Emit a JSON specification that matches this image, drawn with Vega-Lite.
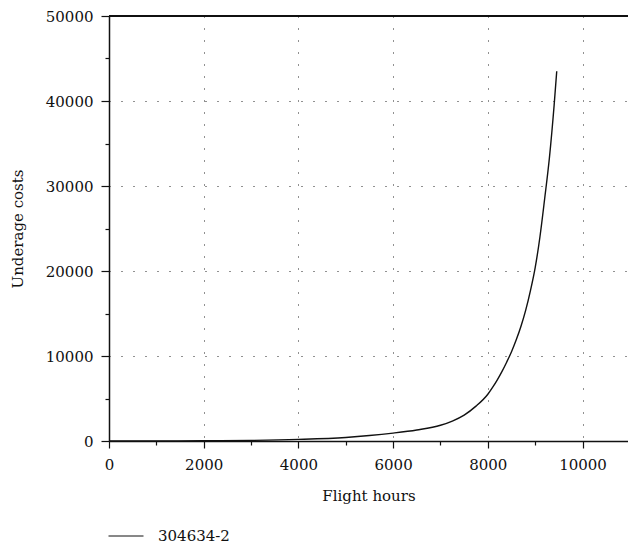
{
  "$schema": "https://vega.github.io/schema/vega-lite/v6.json",
  "width": 519,
  "height": 425,
  "autosize": "none",
  "padding": {"left": 109, "top": 16, "right": 0, "bottom": 107},
  "background": "white",
  "config": {
    "view": {"stroke": null},
    "font": "DejaVu Serif",
    "axis": {
      "labelFont": "DejaVu Serif",
      "titleFont": "DejaVu Serif",
      "labelFontSize": 15,
      "titleFontSize": 15,
      "titleFontWeight": "normal",
      "labelColor": "#111",
      "titleColor": "#111",
      "domainColor": "#111",
      "domainWidth": 1.5,
      "tickColor": "#111",
      "tickWidth": 1.2,
      "gridColor": "#222",
      "gridDash": [1, 11],
      "gridWidth": 1
    },
    "legend": {
      "labelFont": "DejaVu Serif",
      "labelFontSize": 15,
      "labelColor": "#111"
    }
  },
  "data": {
    "values": [
      {"h": 0, "c": 0, "s": "304634-2"},
      {"h": 1000, "c": 5, "s": "304634-2"},
      {"h": 2000, "c": 25, "s": "304634-2"},
      {"h": 3000, "c": 70, "s": "304634-2"},
      {"h": 4000, "c": 190, "s": "304634-2"},
      {"h": 5000, "c": 420, "s": "304634-2"},
      {"h": 5500, "c": 640, "s": "304634-2"},
      {"h": 6000, "c": 930, "s": "304634-2"},
      {"h": 6500, "c": 1300, "s": "304634-2"},
      {"h": 7000, "c": 1850, "s": "304634-2"},
      {"h": 7250, "c": 2350, "s": "304634-2"},
      {"h": 7500, "c": 3050, "s": "304634-2"},
      {"h": 7750, "c": 4100, "s": "304634-2"},
      {"h": 8000, "c": 5500, "s": "304634-2"},
      {"h": 8100, "c": 6300, "s": "304634-2"},
      {"h": 8200, "c": 7200, "s": "304634-2"},
      {"h": 8300, "c": 8200, "s": "304634-2"},
      {"h": 8400, "c": 9300, "s": "304634-2"},
      {"h": 8500, "c": 10500, "s": "304634-2"},
      {"h": 8600, "c": 11900, "s": "304634-2"},
      {"h": 8700, "c": 13500, "s": "304634-2"},
      {"h": 8800, "c": 15400, "s": "304634-2"},
      {"h": 8900, "c": 17700, "s": "304634-2"},
      {"h": 9000, "c": 20400, "s": "304634-2"},
      {"h": 9100, "c": 24000, "s": "304634-2"},
      {"h": 9200, "c": 28500, "s": "304634-2"},
      {"h": 9300, "c": 33300, "s": "304634-2"},
      {"h": 9400, "c": 39500, "s": "304634-2"},
      {"h": 9455, "c": 43500, "s": "304634-2"}
    ]
  },
  "layer": [
    {
      "mark": {"type": "line", "strokeWidth": 1.4, "interpolate": "monotone"},
      "encoding": {
        "x": {
          "field": "h",
          "type": "quantitative",
          "scale": {"domain": [0, 10960], "nice": false},
          "axis": {
            "title": "Flight hours",
            "values": [0, 1000, 2000, 3000, 4000, 5000, 6000, 7000, 8000, 9000, 10000],
            "labelExpr": "datum.value % 2000 === 0 ? datum.label : ''",
            "format": "d",
            "tickSize": {"condition": {"test": "datum.value % 2000 === 0", "value": 7}, "value": 4},
            "gridOpacity": {"condition": {"test": "datum.value % 2000 === 0", "value": 1}, "value": 0},
            "labelPadding": 9,
            "titlePadding": 16,
            "labelFlush": false
          }
        },
        "y": {
          "field": "c",
          "type": "quantitative",
          "scale": {"domain": [0, 50000], "nice": false},
          "axis": {
            "title": "Underage costs",
            "values": [0, 5000, 10000, 15000, 20000, 25000, 30000, 35000, 40000, 45000, 50000],
            "labelExpr": "datum.value % 10000 === 0 ? datum.label : ''",
            "format": "d",
            "tickSize": {"condition": {"test": "datum.value % 10000 === 0", "value": 8}, "value": 4},
            "gridOpacity": {"condition": {"test": "datum.value % 10000 === 0", "value": 1}, "value": 0},
            "labelPadding": 8,
            "titlePadding": 20,
            "labelFlush": false
          }
        },
        "color": {
          "field": "s",
          "type": "nominal",
          "scale": {"range": ["#111"]},
          "legend": {
            "title": null,
            "orient": "none",
            "legendX": -1,
            "legendY": 502,
            "symbolType": "stroke",
            "symbolSize": 1225,
            "symbolStrokeWidth": 1,
            "labelOffset": 14,
            "padding": 0
          }
        }
      }
    },
    {
      "mark": {"type": "rule", "color": "#111", "strokeWidth": 1.5},
      "encoding": {"y": {"datum": 50000, "type": "quantitative"}}
    }
  ]
}
